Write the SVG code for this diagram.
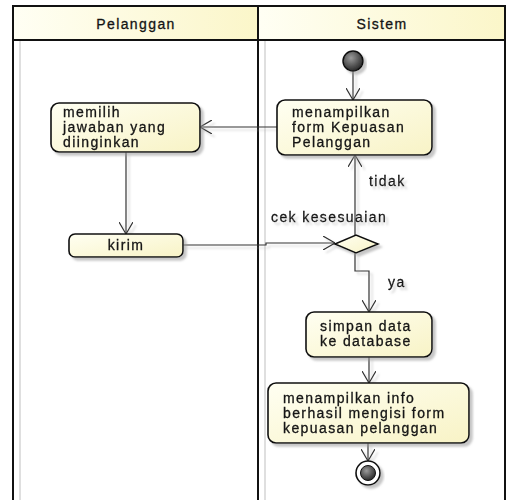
<svg xmlns="http://www.w3.org/2000/svg" width="510" height="500" viewBox="0 0 510 500">
  <defs>
    <linearGradient id="hdr" x1="0" y1="0" x2="1" y2="0">
      <stop offset="0" stop-color="#fffff4"/>
      <stop offset="1" stop-color="#fbf6c9"/>
    </linearGradient>
    <linearGradient id="act" x1="0" y1="0" x2="1" y2="1">
      <stop offset="0" stop-color="#fffff2"/>
      <stop offset="1" stop-color="#f8f3c6"/>
    </linearGradient>
    <radialGradient id="ball" cx="0.4" cy="0.35" r="0.7">
      <stop offset="0" stop-color="#9a9a9a"/>
      <stop offset="1" stop-color="#222"/>
    </radialGradient>
    <filter id="shadow" x="-10%" y="-10%" width="130%" height="140%">
      <feDropShadow dx="3" dy="3" stdDeviation="1.2" flood-color="#999" flood-opacity="0.55"/>
    </filter>
    <filter id="lshadow" x="-10%" y="-10%" width="130%" height="130%">
      <feDropShadow dx="3" dy="3" stdDeviation="0.8" flood-color="#aaa" flood-opacity="0.5"/>
    </filter>
    <marker id="open" viewBox="0 0 12 14" refX="12" refY="7" markerWidth="12" markerHeight="14" markerUnits="userSpaceOnUse" orient="auto">
      <path d="M0,0 L12,7 L0,14" fill="none" stroke="#333" stroke-width="1.2"/>
    </marker>
  </defs>
  <style>
    text { font-family: "Liberation Sans", Arial, sans-serif; font-size: 14px; fill: #141414; stroke: #141414; stroke-width: 0.3px; letter-spacing: 1.4px; }
    .hdrtxt { text-anchor: middle; }
    .lane { fill: none; stroke: #111; stroke-width: 2; }
    .laneshadow { stroke: #d4d4d4; stroke-width: 1.5; }
    .box { fill: url(#act); stroke: #111; stroke-width: 1.6; }
    .flow { fill: none; stroke: #333; stroke-width: 1.2; marker-end: url(#open); }
  </style>

  <!-- swimlanes -->
  <g id="swimlanes">
    <line class="laneshadow" x1="20" y1="12" x2="20" y2="500"/>
    <line class="laneshadow" x1="265" y1="12" x2="265" y2="500"/>
    <rect x="13" y="6" width="245" height="34" fill="url(#hdr)"/>
    <rect x="258" y="6" width="247" height="34" fill="url(#hdr)"/>
    <path class="lane" d="M13,502 V6 H505 V502 M258,6 V502 M13,40 H505"/>
    <text class="hdrtxt" x="136" y="29">Pelanggan</text>
    <text class="hdrtxt" x="382" y="29">Sistem</text>
  </g>

  <!-- connectors -->
  <g id="connectors" filter="url(#lshadow)">
    <path class="flow" d="M353,71 V100"/>
    <path class="flow" d="M277,127 H200"/>
    <path class="flow" d="M126,152 V234"/>
    <path class="flow" d="M183,245 H266 V243 H335"/>
    <path class="flow" d="M355,235 V155"/>
    <path class="flow" d="M355,253 V271 H369 V312"/>
    <path class="flow" d="M369,357 V383"/>
    <path class="flow" d="M368,443 V461"/>
    <text x="369" y="186">tidak</text>
    <text x="271" y="222">cek kesesuaian</text>
    <text x="388" y="287">ya</text>
  </g>

  <!-- nodes -->
  <g id="start" filter="url(#shadow)">
    <circle cx="353" cy="61" r="10" fill="url(#ball)" stroke="#111" stroke-width="1.5"/>
  </g>

  <g id="tampilForm" filter="url(#shadow)">
    <rect class="box" x="277" y="100" width="155" height="55" rx="8"/>
    <text x="292" y="117">menampilkan</text>
    <text x="292" y="132">form Kepuasan</text>
    <text x="292" y="147">Pelanggan</text>
  </g>

  <g id="pilihJawaban" filter="url(#shadow)">
    <rect class="box" x="51" y="103" width="149" height="49" rx="8"/>
    <text x="63" y="117">memilih</text>
    <text x="63" y="132">jawaban yang</text>
    <text x="63" y="147">diinginkan</text>
  </g>

  <g id="kirim" filter="url(#shadow)">
    <rect class="box" x="69" y="234" width="114" height="23" rx="6"/>
    <text x="126" y="250" text-anchor="middle">kirim</text>
  </g>

  <g id="cekKesesuaian" filter="url(#shadow)">
    <polygon points="335,244 356,235 378,244 356,253" fill="url(#act)" stroke="#111" stroke-width="1.6"/>
  </g>

  <g id="simpanData" filter="url(#shadow)">
    <rect class="box" x="306" y="312" width="126" height="45" rx="8"/>
    <text x="320" y="331">simpan data</text>
    <text x="320" y="346">ke database</text>
  </g>

  <g id="tampilInfo" filter="url(#shadow)">
    <rect class="box" x="268" y="383" width="201" height="60" rx="8"/>
    <text x="283" y="403">menampilkan info</text>
    <text x="283" y="418">berhasil mengisi form</text>
    <text x="283" y="433">kepuasan pelanggan</text>
  </g>

  <g id="end" filter="url(#shadow)">
    <circle cx="368" cy="473" r="12" fill="#fff" stroke="#111" stroke-width="1.6"/>
    <circle cx="368" cy="473" r="7.5" fill="url(#ball)" stroke="#111" stroke-width="1"/>
  </g>
</svg>
